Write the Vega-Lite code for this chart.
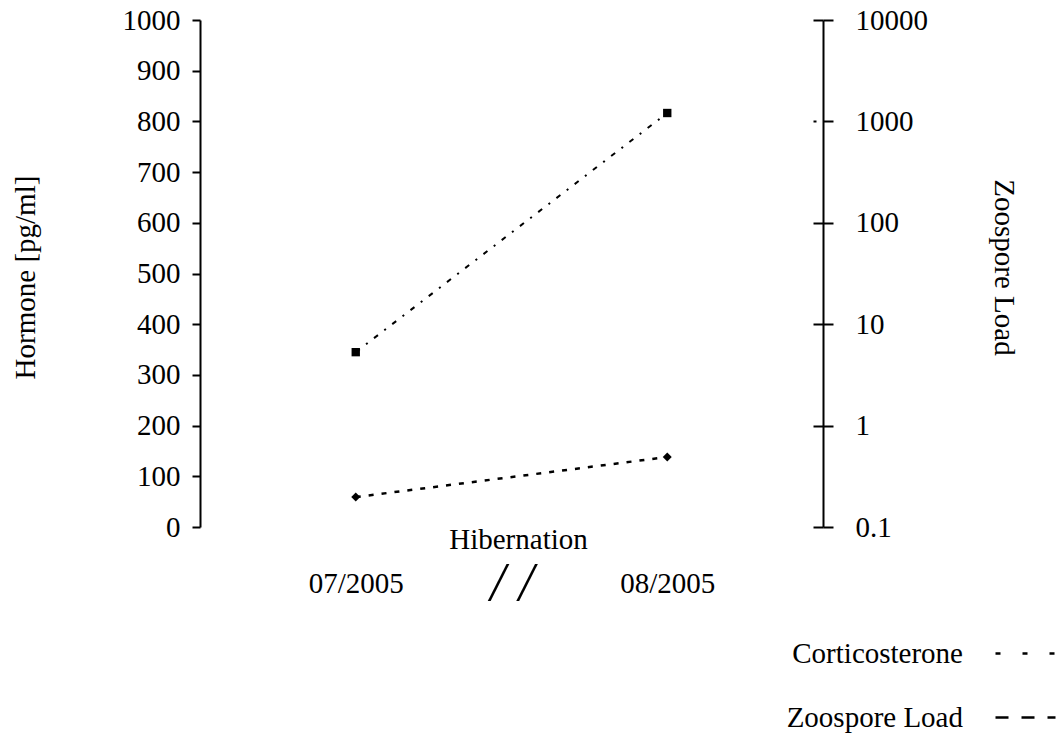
{
  "$schema": "https://vega.github.io/schema/vega-lite/v6.json",
  "width": 623,
  "height": 507,
  "autosize": "none",
  "padding": {"left": 200, "top": 20, "right": 234, "bottom": 211},
  "background": "white",
  "config": {
    "view": {"stroke": null},
    "font": "Liberation Serif",
    "axis": {
      "labelFont": "Liberation Serif",
      "titleFont": "Liberation Serif",
      "labelColor": "black",
      "titleColor": "black",
      "domainColor": "black",
      "tickColor": "black",
      "titleFontWeight": "normal",
      "labelFontSize": 29,
      "titleFontSize": 29,
      "grid": false
    },
    "legend": {
      "labelFont": "Liberation Serif",
      "labelFontSize": 29,
      "labelColor": "black",
      "labelLimit": 400
    }
  },
  "data": {
    "values": [
      {"date": "07/2005", "series": "Corticosterone", "value": 59},
      {"date": "08/2005", "series": "Corticosterone", "value": 138},
      {"date": "07/2005", "series": "Zoospore Load", "value": 5.3},
      {"date": "08/2005", "series": "Zoospore Load", "value": 1210}
    ]
  },
  "encoding": {
    "x": {
      "field": "date",
      "type": "ordinal",
      "scale": {"type": "point", "domain": ["07/2005", "//", "08/2005"], "padding": 1},
      "axis": {
        "title": "Hibernation",
        "domain": false,
        "ticks": false,
        "tickSize": 0,
        "labelAngle": 0,
        "labelPadding": 56,
        "labelBaseline": "middle",
        "labelExpr": "datum.value === '//' ? '/ /' : datum.label",
        "labelFontSize": {"condition": {"test": "datum.value === '//'", "value": 54}, "value": 29},
        "labelFontStyle": {"condition": {"test": "datum.value === '//'", "value": "italic"}, "value": "normal"},
        "titleX": 318,
        "titleY": 12,
        "titleBaseline": "middle",
        "titleAlign": "center"
      }
    }
  },
  "layer": [
    {
      "transform": [{"filter": "datum.series === 'Corticosterone'"}],
      "encoding": {
        "y": {
          "field": "value",
          "type": "quantitative",
          "scale": {"domain": [0, 1000], "nice": false, "zero": true},
          "axis": {
            "orient": "left",
            "title": "Hormone [pg/ml]",
            "values": [0, 100, 200, 300, 400, 500, 600, 700, 800, 900, 1000],
            "format": "d",
            "tickSize": 8,
            "tickWidth": 2,
            "domainWidth": 2,
            "labelPadding": 12,
            "labelBaseline": "middle",
            "titleAngle": -90,
            "titleX": -175,
            "titleY": 257,
            "titleBaseline": "middle",
            "titleAlign": "center"
          }
        }
      },
      "layer": [
        {
          "mark": {"type": "line", "color": "black", "strokeWidth": 2.5, "strokeDash": [5, 8]}
        },
        {
          "mark": {"type": "line", "color": "black", "strokeWidth": 2, "opacity": 0},
          "encoding": {
            "strokeDash": {
              "field": "series",
              "type": "nominal",
              "scale": {"domain": ["Corticosterone", "Zoospore Load"], "range": [[5, 22], [13, 13]]},
              "legend": {
                "title": null,
                "orient": "none",
                "legendX": 794,
                "legendY": 602,
                "direction": "vertical",
                "symbolType": "stroke",
                "symbolSize": 3600,
                "symbolStrokeWidth": 2.5,
                "symbolStrokeColor": "black",
                "symbolOpacity": 1,
                "labelAlign": "right",
                "labelOffset": -94,
                "rowPadding": 17,
                "padding": 0
              }
            }
          }
        },
        {
          "mark": {"type": "point", "shape": "diamond", "filled": true, "size": 80, "color": "black", "opacity": 1}
        }
      ]
    },
    {
      "transform": [{"filter": "datum.series === 'Zoospore Load'"}],
      "encoding": {
        "y": {
          "field": "value",
          "type": "quantitative",
          "scale": {"type": "log", "domain": [0.1, 10000], "nice": false},
          "axis": {
            "orient": "right",
            "title": "Zoospore Load",
            "values": [0.1, 1, 10, 100, 1000, 10000],
            "format": "~g",
            "tickSize": 10,
            "tickWidth": 2,
            "domainWidth": 2,
            "labelPadding": 22,
            "labelBaseline": "middle",
            "titleAngle": 90,
            "titleX": 180,
            "titleY": 247,
            "titleBaseline": "middle",
            "titleAlign": "center"
          }
        }
      },
      "layer": [
        {
          "mark": {"type": "line", "color": "black", "strokeWidth": 2, "strokeDash": [5, 8, 2, 8]}
        },
        {
          "mark": {"type": "square", "filled": true, "size": 70, "color": "black", "opacity": 1}
        }
      ]
    },
    {
      "transform": [{"filter": "datum.series === 'Zoospore Load'"}],
      "mark": {"type": "point", "opacity": 0},
      "encoding": {
        "y": {
          "field": "value",
          "type": "quantitative",
          "scale": {"type": "log", "domain": [0.1, 10000], "nice": false},
          "axis": {
            "orient": "right",
            "offset": -10,
            "title": null,
            "domain": false,
            "labels": false,
            "values": [0.1, 1, 10, 100, 1000, 10000],
            "tickSize": {"condition": {"test": "datum.value === 1000", "value": 3}, "value": 10},
            "tickWidth": 2
          }
        }
      }
    }
  ],
  "resolve": {"scale": {"y": "independent"}, "axis": {"y": "independent"}}
}
